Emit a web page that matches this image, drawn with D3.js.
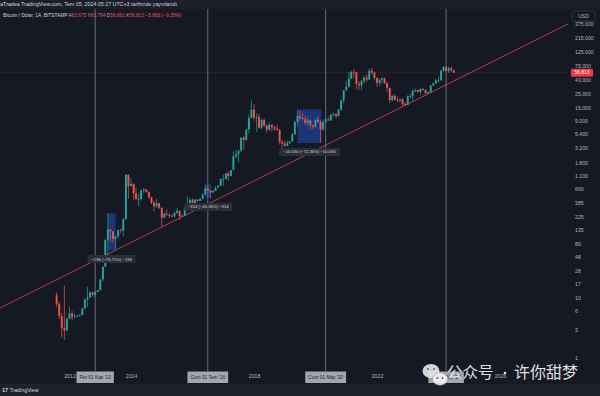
<!DOCTYPE html>
<html>
<head>
<meta charset="utf-8">
<script src="https://cdn.jsdelivr.net/npm/d3@7"></script>
<style>
  body { margin: 0; background: #151924; }
  svg { display: block; font-family: "Liberation Sans", Arial, sans-serif; }
</style>
</head>
<body>
<svg id="chart" width="600" height="396"></svg>
<script>
// Monthly candles, BITSTAMP BTC/USD, first candle Aug 2011
const firstMonth = "2011-08-01";

const opens = [
  11.2, 8.0, 5.0, 3.2, 2.9,
  4.5, 5.5, 4.9, 4.9, 5.0, 5.2, 6.7, 9.4, 10.2, 12.4, 11.2, 12.6,
  13.5, 20.4, 33.4, 93, 139, 129, 97, 106, 135, 133, 206, 1129,
  732, 800, 550, 445, 445, 625, 640, 585, 480, 385, 340, 380,
  320, 218, 254, 245, 235, 230, 263, 284, 230, 236, 312, 377,
  430, 368, 436, 416, 448, 530, 670, 622, 575, 609, 700, 742,
  964, 970, 1190, 1080, 1350, 2300, 2480, 2870, 4700, 4340, 6450, 10000,
  13800, 10100, 10300, 6900, 9250, 7500, 6400, 7730, 7020, 6620, 6300, 4020,
  3740, 3440, 3800, 4100, 5320, 8570, 10800, 10080, 9600, 8300, 9150, 7550,
  7200, 9350, 8550, 6420, 8620, 9450, 9140, 11350, 11650, 10780, 13800, 19700,
  28990, 33100, 45200, 58800, 57700, 37300, 35040, 41500, 47100, 43800, 61300, 57000,
  46200, 38500, 43200, 45500, 37700, 31800, 19900, 23300, 20050, 19420, 20500, 17160,
  16540, 23130, 23150, 28460, 29250, 27220, 30480, 29230, 25940, 26960, 34650, 37720,
  42270, 42580, 61130, 71300, 60650, 67500, 62675
];
const highs = [
  12.5, 8.6, 5.6, 16.0, 4.8,
  7.2, 6.1, 5.5, 5.3, 5.3, 6.8, 9.7, 15.4, 12.9, 12.9, 12.9, 13.6,
  20.4, 33.4, 95, 259, 140, 129, 111, 138, 146, 215, 1163, 1150,
  1000, 800, 700, 545, 630, 680, 660, 600, 490, 420, 450, 385,
  320, 265, 300, 260, 245, 267, 315, 285, 245, 330, 500, 465,
  460, 445, 440, 465, 550, 778, 700, 630, 630, 720, 760, 980,
  1150, 1200, 1300, 1350, 2760, 2980, 2920, 4750, 5000, 6470, 11400, 19666,
  17200, 11800, 11700, 9750, 9950, 7780, 8500, 7750, 7400, 7700, 6550, 4250,
  4100, 4200, 4100, 5640, 9000, 13880, 13200, 12330, 10950, 10400, 9500, 7750,
  9580, 10500, 9200, 9460, 10070, 10400, 11450, 12480, 12090, 14100, 19860, 29300,
  41950, 58350, 61800, 64900, 59600, 41300, 42400, 50500, 52900, 67000, 69000, 59100,
  47900, 45800, 48200, 47400, 40000, 31900, 24700, 25200, 22800, 20990, 21480, 18400,
  23950, 25250, 29200, 31000, 29820, 31400, 31800, 30200, 27500, 35200, 38400, 44700,
  48970, 63900, 73800, 72700, 71950, 71950, 63794
];
const lows = [
  7.0, 4.5, 2.2, 2.0, 2.8,
  4.5, 4.3, 4.6, 4.8, 4.9, 5.2, 6.5, 7.1, 10.1, 10.5, 10.5, 12.5,
  13.2, 19.1, 33.2, 50, 88, 83, 65, 101, 119, 106, 199, 455,
  732, 420, 440, 340, 420, 555, 565, 450, 365, 275, 315, 305,
  152, 210, 235, 215, 225, 218, 250, 200, 225, 235, 300, 350,
  355, 365, 400, 412, 440, 520, 600, 465, 570, 605, 680, 740,
  750, 940, 890, 1060, 1350, 2100, 1830, 2700, 2970, 4150, 5500, 10000,
  9000, 5900, 6600, 6500, 7050, 5750, 6100, 5880, 6100, 6200, 3600, 3150,
  3350, 3370, 3700, 4080, 5320, 7450, 9070, 9400, 7750, 7300, 6500, 6430,
  6870, 8450, 3850, 6150, 8100, 8900, 8950, 10550, 9850, 10400, 13200, 17600,
  28100, 32300, 45000, 47000, 30000, 28800, 29300, 37300, 39600, 43300, 53500, 42000,
  32900, 34300, 37200, 37600, 26700, 17600, 18800, 19600, 18150, 18200, 15500, 16300,
  16500, 21400, 19550, 26900, 25800, 24800, 28900, 25200, 24900, 26550, 34100, 37600,
  38550, 41900, 59000, 59600, 56500, 58400, 56691
];
const closes = [
  8.0, 5.0, 3.2, 2.9, 4.5,
  5.5, 4.9, 4.9, 5.0, 5.2, 6.7, 9.4, 10.2, 12.4, 11.2, 12.6, 13.5,
  20.4, 33.4, 93, 139, 129, 97, 106, 135, 133, 206, 1129, 732,
  800, 550, 445, 445, 625, 640, 585, 480, 385, 340, 380, 320,
  218, 254, 245, 235, 230, 263, 284, 230, 236, 312, 377, 430,
  368, 436, 416, 448, 530, 670, 622, 575, 609, 700, 742, 964,
  970, 1190, 1080, 1350, 2300, 2480, 2870, 4700, 4340, 6450, 10000, 13800,
  10100, 10300, 6900, 9250, 7500, 6400, 7730, 7020, 6620, 6300, 4020, 3740,
  3440, 3800, 4100, 5320, 8570, 10800, 10080, 9600, 8300, 9150, 7550, 7200,
  9350, 8550, 6420, 8620, 9450, 9140, 11350, 11650, 10780, 13800, 19700, 28990,
  33100, 45200, 58800, 57700, 37300, 35040, 41500, 47100, 43800, 61300, 57000, 46200,
  38500, 43200, 45500, 37700, 31800, 19900, 23300, 20050, 19420, 20500, 17160, 16540,
  23130, 23150, 28460, 29250, 27220, 30480, 29230, 25940, 26960, 34650, 37720, 42270,
  42580, 61130, 71300, 60650, 67500, 62675, 56813
];

// axis ticks
const priceTicks = [375000, 215000, 125000, 75000, 43000, 25000, 15000, 9000, 5400, 3200,
  1800, 1100, 660, 385, 225, 135, 80, 48, 28, 17, 10, 6, 3, 1];
const yearTicks = ["2012", "2014", "2018", "2022", "2026"];

// halving month markers (vertical lines + date boxes on time axis)
const markerDates = ["2012-11-01", "2016-07-01", "2020-05-01", "2024-04-01"];
const markerLabels = ["Per 01 Kas '12", "Cum 01 Tem '16", "Cum 01 May '20", "Pzt 01 Nis '24"];

// price range measurements
const rangeStarts = ["2013-04-01", "2016-06-01", "2019-06-01"];
const rangeEnds = ["2013-07-01", "2016-08-10", "2020-03-12"];
const rangeHighs = [259, 778, 13861];
const rangeLows = [63, 464, 3831];
const rangeLabels = ["−196 (−75,71%) −196", "−314 (−40,35%) −314", "−10.030 (−72,36%) −10.030"];

// trend line anchors
const trendDates = ["2011-01-15", "2028-03-15"];
const trendValues = [14.7, 368000];

const lastClose = 56813;

// ---------------------------------------------------------------

const svg = d3.select("#chart");
const W = 600, H = 396;
const pane = { left: 0, right: 568, top: 9, bottom: 371 };

const UP = "#26a69a", DOWN = "#ef5350", TXT = "#b2b5be";
const parse = d3.utcParse("%Y-%m-%d");

const x = d3.scaleUtc()
  .domain([parse("2012-01-01"), parse("2022-01-01")])
  .range([69.5, 377]);
const y = d3.scaleLog()
  .domain([1, 100000])
  .range([358, 58]);

const trFmt = d3.formatLocale({ decimal: ",", thousands: ".", grouping: [3], currency: ["", ""] });
const fmtInt = trFmt.format(",d");
const fmtPrice = trFmt.format(",.0f");

svg.append("rect").attr("width", W).attr("height", H).attr("fill", "#151924");
svg.append("rect").attr("width", W).attr("height", 9).attr("fill", "#1b1f2a");
svg.append("rect").attr("y", 384).attr("width", W).attr("height", 12).attr("fill", "#1e222d");

svg.append("clipPath").attr("id", "pane-clip")
  .append("rect")
  .attr("x", pane.left).attr("y", pane.top)
  .attr("width", pane.right - pane.left).attr("height", pane.bottom - pane.top);

const plot = svg.append("g").attr("clip-path", "url(#pane-clip)");

// halving lines
plot.selectAll("line.marker")
  .data(markerDates)
  .join("line")
  .attr("class", "marker")
  .attr("x1", d => x(parse(d))).attr("x2", d => x(parse(d)))
  .attr("y1", pane.top).attr("y2", pane.bottom)
  .attr("stroke", "#737682").attr("stroke-width", 0.9);

// last price dotted line
plot.append("line")
  .attr("x1", pane.left).attr("x2", pane.right)
  .attr("y1", y(lastClose)).attr("y2", y(lastClose))
  .attr("stroke", "#f23645").attr("stroke-opacity", 0.55)
  .attr("stroke-width", 0.7).attr("stroke-dasharray", "1,1.5");

// range boxes
const ranges = rangeStarts.map((s, i) => ({
  x0: x(parse(s)), x1: x(parse(rangeEnds[i])),
  y0: y(rangeHighs[i]), y1: y(rangeLows[i]),
  label: rangeLabels[i]
}));

plot.selectAll("rect.range")
  .data(ranges)
  .join("rect")
  .attr("class", "range")
  .attr("x", d => d.x0).attr("y", d => d.y0)
  .attr("width", d => d.x1 - d.x0).attr("height", d => d.y1 - d.y0)
  .attr("fill", "#2962ff").attr("fill-opacity", 0.38);

// candles
const start = parse(firstMonth);
const candles = closes.map((c, i) => ({
  date: d3.utcMonth.offset(start, i),
  o: opens[i], h: highs[i], l: lows[i], c: c
}));

const cg = plot.append("g");
cg.selectAll("line.wick")
  .data(candles)
  .join("line")
  .attr("class", "wick")
  .attr("x1", d => x(d.date)).attr("x2", d => x(d.date))
  .attr("y1", d => y(d.h)).attr("y2", d => y(d.l))
  .attr("stroke", d => d.c >= d.o ? UP : DOWN)
  .attr("stroke-width", 0.7);

cg.selectAll("rect.body")
  .data(candles)
  .join("rect")
  .attr("class", "body")
  .attr("x", d => x(d.date) - 0.95)
  .attr("width", 1.9)
  .attr("y", d => y(Math.max(d.o, d.c)))
  .attr("height", d => Math.max(0.8, Math.abs(y(d.o) - y(d.c))))
  .attr("fill", d => d.c >= d.o ? UP : DOWN);

// trend line, extended across the pane
const p0 = [x(parse(trendDates[0])), y(trendValues[0])];
const p1 = [x(parse(trendDates[1])), y(trendValues[1])];
const slope = (p1[1] - p0[1]) / (p1[0] - p0[0]);
plot.append("line")
  .attr("x1", pane.left).attr("y1", p0[1] + slope * (pane.left - p0[0]))
  .attr("x2", pane.right).attr("y2", p0[1] + slope * (pane.right - p0[0]))
  .attr("stroke", "#e0506a").attr("stroke-opacity", 0.85).attr("stroke-width", 0.9);

// range labels
const rl = plot.selectAll("g.rlabel")
  .data(ranges)
  .join("g")
  .attr("class", "rlabel")
  .attr("transform", d => `translate(${(d.x0 + d.x1) / 2},${d.y1 + 9})`);
rl.append("rect")
  .attr("x", d => -d.label.length * 1.1 - 3).attr("y", -4)
  .attr("width", d => d.label.length * 2.2 + 6).attr("height", 8)
  .attr("rx", 1).attr("fill", "#2a2e39");
rl.append("text")
  .attr("text-anchor", "middle").attr("dy", "0.35em")
  .attr("font-size", 4.2).attr("fill", "#d1d4dc")
  .text(d => d.label);

// price axis
const yAxis = svg.append("g")
  .attr("transform", `translate(575,0)`)
  .call(d3.axisRight(y).tickValues(priceTicks).tickFormat(fmtInt).tickSize(0).tickPadding(0));
yAxis.select(".domain").remove();
yAxis.selectAll("text")
  .attr("fill", TXT).attr("font-size", 5.2)
  .attr("font-family", "Liberation Sans, Arial, sans-serif");

// USD box
svg.append("rect")
  .attr("x", 572).attr("y", 11).attr("width", 23).attr("height", 10)
  .attr("rx", 1.5).attr("fill", "#151924").attr("stroke", "#434651").attr("stroke-width", 0.6);
svg.append("text")
  .attr("x", 583.5).attr("y", 16).attr("dy", "0.35em").attr("text-anchor", "middle")
  .attr("font-size", 5).attr("fill", TXT).text("USD");

// last price tag
svg.append("rect")
  .attr("x", 571).attr("y", y(lastClose) - 4).attr("width", 22).attr("height", 8)
  .attr("rx", 1).attr("fill", "#f23645");
svg.append("text")
  .attr("x", 582).attr("y", y(lastClose)).attr("dy", "0.35em").attr("text-anchor", "middle")
  .attr("font-size", 5).attr("fill", "#ffffff").text(fmtPrice(lastClose));

// time axis
const xAxis = svg.append("g")
  .attr("transform", `translate(0,${pane.bottom})`)
  .call(d3.axisBottom(x).tickValues(yearTicks.map(t => parse(t + "-01-01")))
    .tickFormat(d3.utcFormat("%Y")).tickSize(0).tickPadding(3));
xAxis.select(".domain").remove();
xAxis.selectAll("text")
  .attr("fill", TXT).attr("font-size", 5.2)
  .attr("font-family", "Liberation Sans, Arial, sans-serif");

// marker date boxes on the time axis (box sized to its text)
const mb = svg.selectAll("g.mbox")
  .data(markerDates.map((d, i) => ({ date: parse(d), label: markerLabels[i] })))
  .join("g")
  .attr("class", "mbox")
  .attr("transform", d => `translate(${x(d.date)},377)`);
const mbRect = mb.append("rect").attr("y", -5.5).attr("height", 11.5).attr("fill", "#a3a6af");
const mbText = mb.append("text")
  .attr("text-anchor", "middle").attr("dy", "0.35em")
  .attr("font-size", 4.8).attr("fill", "#1e222d")
  .text(d => d.label);
mbText.each(function (d) { d.w = this.getComputedTextLength() + 6; });
mbRect.attr("x", d => -d.w / 2).attr("width", d => d.w);

// header texts
svg.append("text")
  .attr("x", -1).attr("y", 4.5).attr("dy", "0.35em")
  .attr("font-size", 5.3).attr("fill", "#d1d4dc")
  .text("iaTradea TradingView.com, Tem 05, 2024 05:27 UTC+3 tarihinde yayınlandı");

const legend = svg.append("text")
  .attr("x", 3).attr("y", 15).attr("dy", "0.35em")
  .attr("font-size", 4.8).attr("fill", "#d1d4dc");
legend.append("tspan").text("Bitcoin / Dolar, 1A, BITSTAMP  ");
const ohlcNames = ["A", "Y", "D", "K"];
const ohlcVals = [opens[opens.length - 1], highs[highs.length - 1], lows[lows.length - 1], lastClose];
ohlcNames.forEach((n, i) => {
  legend.append("tspan").attr("fill", "#b2b5be").text(n);
  legend.append("tspan").attr("fill", "#e8505f").text(fmtPrice(ohlcVals[i]) + "  ");
});
legend.append("tspan").attr("fill", "#e8505f").text("−5.863 (−9,35%)");

// footer logo
svg.append("text")
  .attr("x", 2).attr("y", 390).attr("dy", "0.35em")
  .attr("font-size", 5.3).attr("fill", "#d1d4dc")
  .call(t => t.append("tspan").attr("font-weight", "bold").text("17 "))
  .call(t => t.append("tspan").text("TradingView"));

// watermark
const wm = svg.append("g").attr("opacity", 0.92);
wm.append("ellipse").attr("cx", 431).attr("cy", 371).attr("rx", 8.5).attr("ry", 7).attr("fill", "#e6e6e6");
wm.append("ellipse").attr("cx", 440).attr("cy", 379).attr("rx", 7.5).attr("ry", 6.2)
  .attr("fill", "#f2f2f2").attr("stroke", "#9a9a9a").attr("stroke-width", 0.5);
[[428, 369], [434, 369], [437.5, 378], [442.5, 378]].forEach(([cx, cy]) =>
  wm.append("circle").attr("cx", cx).attr("cy", cy).attr("r", 0.9).attr("fill", "#5a5a5a"));
wm.append("text")
  .attr("x", 447).attr("y", 378)
  .attr("font-family", "Noto Sans CJK SC").attr("font-size", 15.5).attr("fill", "#f0f0f0")
  .text("公众号");
wm.append("circle").attr("cx", 505).attr("cy", 373).attr("r", 1.3).attr("fill", "#f0f0f0");
wm.append("text")
  .attr("x", 514).attr("y", 378)
  .attr("font-family", "Noto Sans CJK SC").attr("font-size", 16).attr("fill", "#f0f0f0")
  .text("许你甜梦");
</script>
</body>
</html>
